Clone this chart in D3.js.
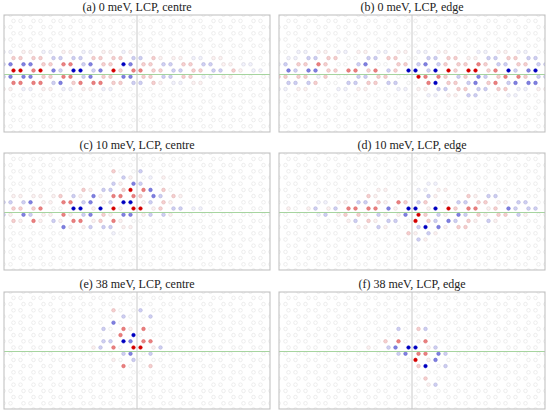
<!DOCTYPE html>
<html>
<head>
<meta charset="utf-8">
<script src="https://cdn.jsdelivr.net/npm/d3@7"></script>
<style>
  body { margin: 0; background: #fff; }
</style>
</head>
<body>
<svg id="chart" width="550" height="411"></svg>
<script>
// panel titles
let titles = ["(a) 0 meV, LCP, centre", "(b) 0 meV, LCP, edge",
              "(c) 10 meV, LCP, centre", "(d) 10 meV, LCP, edge",
              "(e) 38 meV, LCP, centre", "(f) 38 meV, LCP, edge"];

// site amplitude codes
let codes = { "R": 1, "r": 0.6, "p": 0.3, "f": 0.12, ".": 0, "g": -0.12, "q": -0.3, "b": -0.6, "B": -1 };

// rows: [row index, sites left->right in pairs]; even rows 13 pairs, odd rows 14 pairs
let rowsA = [
  [3, "gg ff gg ff gg ff gf .. .. .. .. .. .. .."],
  [2, "pp pp qq qq pp pp qq pf ff gg ff .. .."],
  [1, "qb bb pp rr qb pp Bb pp qq pp qq ff gg .."],
  [0, "RR rR bq BB qb Rp rr pp qq pp qq pf gg"],
  [-1, "qb bb pp rr qb pp bb pp qq pp gg ff .. .."],
  [-2, "rr rr qb pr rr pp qq pf gg ff .. .. .."],
  [-3, "ff gg ff gg ff gg .. .. .. .. .. .. .. .."]
];
let rowsB = [
  [3, ".. gg ff gg ff gg ff gg ff .. gg ff gg .."],
  [2, "gg qq pp .. qq pp .. qq pp ff qq pp qq"],
  [1, "gq pp rp .. qb .. pp qb qp pp rp qq pp qq"],
  [0, "bq bb pp rr pr qp BB qB Rp RR pr Bq bB"],
  [-1, "pp pp gp .. qq pp .. Rr rp qp bq pr rp qq"],
  [-2, "qq qp .. qq pp qq .. rB pp qb pr qb bb"],
  [-3, "gg ff .. gg ff .. gg ff qq pp qq pp gg ff"],
  [-4, ".. .. .. .. .. .. .. gg ff qq .. gg .."]
];
let rowsC = [
  [6, ".. .. .. .. .. p. .q .. .. .. .. .. .."],
  [5, ".. .. .. .. .. .. qf .g f. .. .. .. .. .."],
  [4, ".. .. .. .. .. qf bq .. .. .. .. .. .."],
  [3, ".. .. .. .. pf qq pR rb p. .. .. .. .. .."],
  [2, "ff ff fp qf bf rr rp bq pf .. .. .. .."],
  [1, "qq qb ff rr qb fq BB fq pf .. .. .. .. .."],
  [0, "pp pr .. BB fB Rf RR fp qq gg .. .. .."],
  [-1, "qf bq ff rf qb pf bb fq qf .. .. .. .. .."],
  [-2, "pf rf qf rr fp rf .. .. .. .. .. .. .."],
  [-3, ".. .. .. bf fq qq ff .. .. .. .. .. .. .."],
  [-4, ".. .. .. .. .. g. .. .. .. .. .. .. .."]
];
let rowsD = [
  [4, ".. .. .. .. .. .. .. gg .. .. .. .. .."],
  [3, ".. .. .. .. .. ff .. gg ff .. .. .. .. .."],
  [2, ".. .. .. .. pf .. .. qf .. pf qq .. .."],
  [1, ".. .. gg ff qq pf rp qp .f qq pp ff qq .."],
  [0, "f. fq fq rr rr bf BB fB Rp rr fp bq qq"],
  [-1, ".. .. gq fp pf qf fb Rp qf bq pf pp qf .."],
  [-2, ".. .. .. fq pf qq .R pq bq pf qf .. .."],
  [-3, ".. .. .. .. ff qf .. qB bf pp .. .. .. .."],
  [-4, ".. .. .. .. .. .. pf qf .. .. .. .. .."],
  [-5, ".. .. .. .. .. .. .. qf .. .. .. .. .. .."]
];
let rowsE = [
  [6, ".. .. .. .. .. p. .q .. .. .. .. .. .."],
  [5, ".. .. .. .. .. .. q. .q .. .. .. .. .. .."],
  [4, ".. .. .. .. .. b. .. .. .. .. .. .. .."],
  [3, ".. .. .. .. .. q. rf r. .. .. .. .. .. .."],
  [2, ".. .. .. .. .. .r B. .. .. .. .. .. .."],
  [1, ".. .. .. .. .. qq Bb rr .. .. .. .. .. .."],
  [0, ".. .. .. .. fq r. RR fq .. .. .. .. .."],
  [-1, ".. .. .. .. .. .. qb .q .. .. .. .. .. .."],
  [-2, ".. .. .. .. .. f. q. .. .. .. .. .. .."],
  [-3, ".. .. .. .. .. .. r. .p .. .. .. .. .. .."]
];
let rowsF = [
  [3, ".. .. .. .. .. .. q. pq .. .. .. .. .. .."],
  [1, ".. .. .. .. .. .p r. fr .. .. .. .. .. .."],
  [0, ".. .. .. .. f. qb BB fq .. .. .. .. .."],
  [-1, ".. .. .. .. .. .. qb rr bq .. .. .. .. .."],
  [-2, ".. .. .. .. .. .. .R fb .. .. .. .. .."],
  [-3, ".. .. .. .. .. .. .. pB .q .. .. .. .. .."],
  [-5, ".. .. .. .. .. .. .. .p .. .. .. .. .. .."],
  [-6, ".. .. .. .. .. .. .. fq .. .. .. .. .."]
];
let panelRows = [rowsA, rowsB, rowsC, rowsD, rowsE, rowsF];

let svg = d3.select("#chart");
let boxX = [4, 279], boxW = 266;
let boxY = [15, 153, 292], boxH = 117;
let period = 20, half = 3.5, rowStep = 6.2;

let red = "#d40000", blue = "#0000c0";

function siteColor(v) {
    let strong = v > 0 ? red : blue;
    let a = Math.pow(Math.abs(v), 1.4);
    return {
        fill: d3.interpolateRgb("#ffffff", strong)(a),
        stroke: d3.interpolateRgb("#dedede", strong)(Math.min(1, a * 1.2))
    };
}

panelRows.forEach(function (rows, p) {
    let x0 = boxX[p % 2], y0 = boxY[Math.floor(p / 2)];
    let cx = x0 + boxW / 2, cy = y0 + boxH / 2;
    // lattice scales: x in lattice px from centre, y in row index
    let x = d3.scaleLinear().domain([-boxW / 2, boxW / 2]).range([x0, x0 + boxW]);
    let y = d3.scaleLinear().domain([0, 1]).range([cy - 3, cy - 3 - rowStep]);

    let lookup = {};
    rows.forEach(function (r) {
        lookup[r[0]] = r[1].replace(/ /g, "");
    });

    let sites = [];
    for (let row = -10; row <= 10; row++) {
        let odd = Math.abs(row) % 2 === 1;
        let kmin = odd ? -7 : -6;
        let s = lookup[row] || "";
        let i = 0;
        for (let k = kmin; k <= 6; k++) {
            [-1, 1].forEach(function (side) {
                let px = period * k + (odd ? period / 2 : 0) + side * half;
                let c = s.charAt(i) || ".";
                sites.push({ px: px, row: row, v: codes[c] });
                i++;
            });
        }
    }

    let clipId = "clip" + p;
    svg.append("clipPath").attr("id", clipId)
        .append("rect").attr("x", x0).attr("y", y0).attr("width", boxW).attr("height", boxH);

    let g = svg.append("g").attr("clip-path", "url(#" + clipId + ")");

    g.selectAll("circle.site")
        .data(sites.sort(function (a, b) { return Math.abs(a.v) - Math.abs(b.v); }))
        .enter().append("circle")
        .attr("class", "site")
        .attr("cx", function (d) { return x(d.px); })
        .attr("cy", function (d) { return y(d.row); })
        .attr("r", 1.8)
        .attr("fill", function (d) { return siteColor(d.v).fill; })
        .attr("stroke", function (d) { return siteColor(d.v).stroke; })
        .attr("stroke-width", 0.55);

    g.append("line")
        .attr("x1", x0).attr("x2", x0 + boxW).attr("y1", cy + 1).attr("y2", cy + 1)
        .attr("stroke", "#9ccf94").attr("stroke-width", 0.9);
    g.append("line")
        .attr("x1", cx).attr("x2", cx).attr("y1", y0).attr("y2", y0 + boxH)
        .attr("stroke", "#c4c4c4").attr("stroke-width", 0.9);

    svg.append("rect")
        .attr("x", x0).attr("y", y0).attr("width", boxW).attr("height", boxH)
        .attr("fill", "none").attr("stroke", "#bdbdbd").attr("stroke-width", 1);

    svg.append("text")
        .attr("x", cx).attr("y", y0 - 4)
        .attr("text-anchor", "middle")
        .attr("font-family", "'Liberation Serif', 'DejaVu Serif', serif")
        .attr("font-size", 12)
        .attr("fill", "#222")
        .text(titles[p]);
});
</script>
</body>
</html>
